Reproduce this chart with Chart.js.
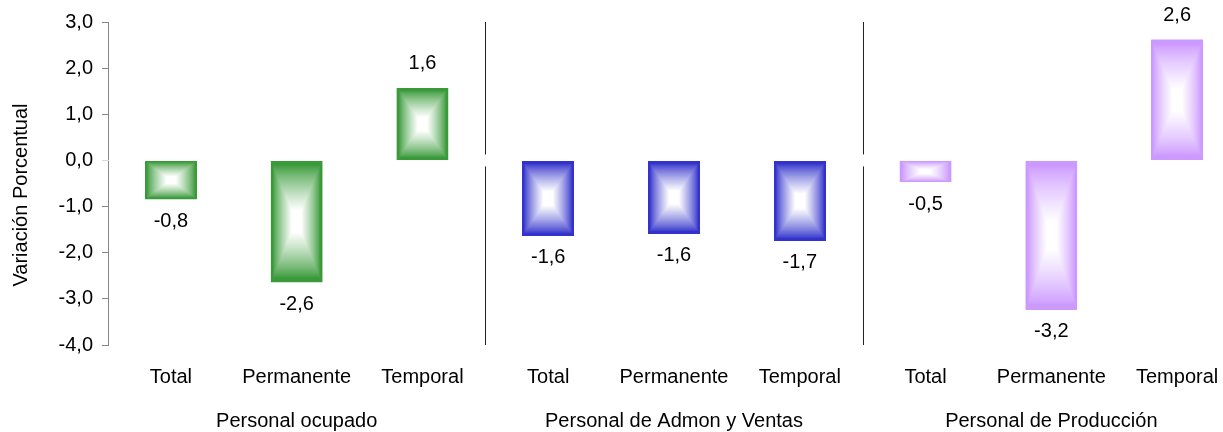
<!DOCTYPE html>
<html>
<head>
<meta charset="utf-8">
<script src="https://cdn.jsdelivr.net/npm/chart.js@4/dist/chart.umd.min.js"></script>
<style>
  body { margin: 0; background: #fff; overflow: hidden; }
  #wrap { width: 1240px; height: 432px; }
</style>
</head>
<body>
<div id="wrap"><canvas id="chart" width="1240" height="432"></canvas></div>
<script>
// data
const categories = ["Total", "Permanente", "Temporal", "Total", "Permanente", "Temporal", "Total", "Permanente", "Temporal"];
const groups = ["Personal ocupado", "Personal de Admon y Ventas", "Personal de Producción"];
const values = [-0.84, -2.64, 1.57, -1.63, -1.59, -1.74, -0.47, -3.24, 2.62];
const groupColors = ["#3a9a3a", "#3333cc", "#cc99ff"];
const yTicks = [3, 2, 1, 0, -1, -2, -3, -4];

const FONT = "'Liberation Sans', Arial, sans-serif";
const SIZE = 20;
const fmt = v => v.toFixed(1).replace('.', ',');

function hexRgb(h) {
  return [parseInt(h.slice(1, 3), 16), parseInt(h.slice(3, 5), 16), parseInt(h.slice(5, 7), 16)];
}

// rectangular "from centre" gradient, edge colour fading to white
function boxGradient(ctx, x0, y0, x1, y1, hex) {
  x0 = Math.round(x0); x1 = Math.round(x1);
  y0 = Math.round(y0); y1 = Math.round(y1);
  const w = x1 - x0, h = y1 - y0;
  if (w <= 0 || h <= 0) return;
  const c = hexRgb(hex);
  const img = ctx.createImageData(w, h);
  for (let j = 0; j < h; j++) {
    for (let i = 0; i < w; i++) {
      const u = Math.max(Math.abs(i + 0.5 - w / 2) / (w / 2), Math.abs(j + 0.5 - h / 2) / (h / 2));
      let t = (1 - u - 0.07) / 0.75;
      t = Math.pow(Math.max(0, Math.min(1, t)), 0.8);
      const k = (j * w + i) * 4;
      img.data[k] = c[0] + (255 - c[0]) * t;
      img.data[k + 1] = c[1] + (255 - c[1]) * t;
      img.data[k + 2] = c[2] + (255 - c[2]) * t;
      img.data[k + 3] = 255;
    }
  }
  ctx.putImageData(img, x0, y0);
}

const extras = {
  id: 'extras',
  afterDatasetsDraw(chart) {
    const ctx = chart.ctx;
    const area = chart.chartArea;
    const x = chart.scales.x, y = chart.scales.y;
    const zero = y.getPixelForValue(0);
    const meta = chart.getDatasetMeta(0);

    meta.data.forEach((bar, i) => {
      const half = bar.width / 2;
      const top = Math.min(bar.y, bar.base), bottom = Math.max(bar.y, bar.base);
      boxGradient(ctx, bar.x - half, top, bar.x + half, bottom, groupColors[Math.floor(i / 3)]);
    });

    ctx.save();
    // pale zero line
    ctx.strokeStyle = 'rgba(255,255,255,0.7)';
    ctx.lineWidth = 1;
    ctx.beginPath();
    ctx.moveTo(area.left - 6, Math.round(zero) + 0.5);
    ctx.lineTo(area.right, Math.round(zero) + 0.5);
    ctx.stroke();

    // group separators
    ctx.strokeStyle = '#222';
    [3, 6].forEach(k => {
      const sx = Math.round((x.getPixelForValue(k - 1) + x.getPixelForValue(k)) / 2) + 0.5;
      ctx.beginPath();
      ctx.moveTo(sx, area.top);
      ctx.lineTo(sx, zero - 6);
      ctx.moveTo(sx, zero + 6);
      ctx.lineTo(sx, area.bottom);
      ctx.stroke();
    });

    ctx.fillStyle = '#000';
    ctx.font = SIZE + 'px ' + FONT;
    ctx.textAlign = 'center';
    ctx.textBaseline = 'middle';

    // value labels
    meta.data.forEach((bar, i) => {
      const v = values[i];
      const ly = v < 0 ? bar.y + 22 : bar.y - 24;
      ctx.fillText(fmt(v), bar.x, ly);
    });

    // group labels
    groups.forEach((g, k) => {
      ctx.fillText(g, x.getPixelForValue(k * 3 + 1), 421);
    });

    // y axis title
    ctx.translate(21, 195);
    ctx.rotate(-Math.PI / 2);
    ctx.fillText('Variación Porcentual', 0, 0);
    ctx.restore();
  }
};

new Chart(document.getElementById('chart'), {
  type: 'bar',
  data: {
    labels: categories,
    datasets: [{
      data: values,
      backgroundColor: categories.map((c, i) => groupColors[Math.floor(i / 3)]),
      borderWidth: 0,
      barPercentage: 0.41,
      categoryPercentage: 1
    }]
  },
  options: {
    responsive: false,
    animation: false,
    layout: { padding: { top: 22, right: 0, bottom: 23, left: 0 } },
    plugins: { legend: { display: false }, tooltip: { enabled: false } },
    scales: {
      x: {
        grid: { display: false, drawTicks: false },
        border: { display: false },
        ticks: { color: '#000', padding: 20, font: { family: FONT, size: SIZE } }
      },
      y: {
        min: -4,
        max: 3,
        afterFit: s => { s.width = 108; },
        afterBuildTicks: s => { s.ticks = yTicks.map(v => ({ value: v })); },
        grid: { drawOnChartArea: false, drawTicks: true, tickLength: 6, color: '#888' },
        border: { display: true, color: '#888', width: 1 },
        ticks: {
          color: '#000',
          padding: 9,
          font: { family: FONT, size: SIZE },
          callback: v => fmt(v)
        }
      }
    }
  },
  plugins: [extras]
});
</script>
</body>
</html>
